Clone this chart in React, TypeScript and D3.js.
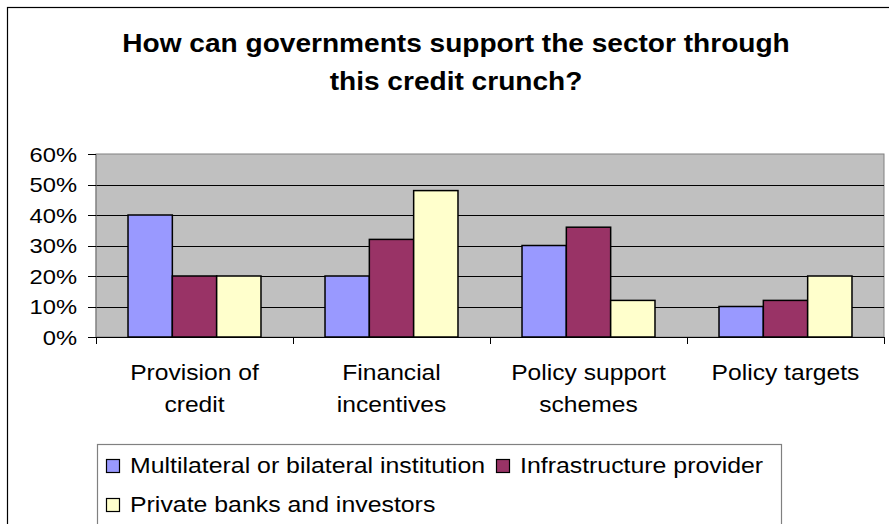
import React from "react";
import * as d3 from "d3";

const categories: string[][] = [
  ["Provision of", "credit"],
  ["Financial", "incentives"],
  ["Policy support", "schemes"],
  ["Policy targets"],
];
const seriesNames = [
  "Multilateral or bilateral institution",
  "Infrastructure provider",
  "Private banks and investors",
];
const multilateral = [0.4, 0.2, 0.3, 0.1];
const infrastructure = [0.2, 0.32, 0.36, 0.12];
const privateBanks = [0.2, 0.48, 0.12, 0.2];
const yTicks = [0, 0.1, 0.2, 0.3, 0.4, 0.5, 0.6];
const colors = ["#9999FF", "#993366", "#FFFFCC"];

const W = 889;
const H = 524;
const FONT = "'Liberation Sans', Arial, sans-serif";

export default function App() {
  const series = [multilateral, infrastructure, privateBanks];
  const plot = { left: 96, right: 884, top: 154, bottom: 337 };
  const x = d3
    .scaleBand<number>()
    .domain(categories.map((_, i) => i))
    .range([plot.left, plot.right])
    .padding(0);
  const bw = x.bandwidth();
  const xs = d3
    .scaleBand<number>()
    .domain(series.map((_, i) => i))
    .range([bw * 0.1625, bw * 0.8375])
    .padding(0);
  const y = d3.scaleLinear().domain([0, 0.6]).range([plot.bottom, plot.top]);
  const fmt = d3.format(".0%");
  const sx = 1.12;

  const legendItems = [
    { i: 0, x: 106, y: 459 },
    { i: 1, x: 496, y: 459 },
    { i: 2, x: 106, y: 498 },
  ];

  return (
    <svg
      width={W}
      height={H}
      style={{ position: "absolute", left: 0, top: 0, display: "block", background: "#fff" }}
    >
      <rect x={7.5} y={7.5} width={900} height={600} fill="#fff" stroke="#000" strokeWidth={1.2} />
      {/* title */}
      <g fontFamily={FONT} fontWeight="bold" fontSize={26} fill="#000" textAnchor="middle">
        <text transform={`translate(456,51.5) scale(1.08,1)`}>
          How can governments support the sector through
        </text>
        <text transform={`translate(456,90) scale(1.08,1)`}>this credit crunch?</text>
      </g>
      {/* plot area */}
      <rect
        x={plot.left}
        y={plot.top}
        width={plot.right - plot.left}
        height={plot.bottom - plot.top}
        fill="#C0C0C0"
        stroke="#808080"
        strokeWidth={1}
      />
      {yTicks
        .filter((t) => t > 0 && t < 0.6)
        .map((t) => (
          <line
            key={t}
            x1={plot.left}
            x2={plot.right}
            y1={Math.round(y(t)) + 0.5}
            y2={Math.round(y(t)) + 0.5}
            stroke="#000"
            strokeWidth={1}
          />
        ))}
      {/* bars */}
      {categories.map((_, ci) =>
        series.map((s, si) => {
          const bx = (x(ci) as number) + (xs(si) as number);
          return (
            <rect
              key={`${ci}-${si}`}
              x={bx}
              y={y(s[ci])}
              width={xs.bandwidth()}
              height={y(0) - y(s[ci])}
              fill={colors[si]}
              stroke="#000"
              strokeWidth={1.5}
            />
          );
        })
      )}
      {/* axes */}
      <line x1={plot.left} x2={plot.left} y1={plot.top} y2={plot.bottom} stroke="#808080" />
      <line x1={plot.left - 8} x2={plot.right} y1={plot.bottom + 0.5} y2={plot.bottom + 0.5} stroke="#000" />
      {yTicks.map((t) => (
        <line
          key={`yt${t}`}
          x1={plot.left - 8}
          x2={plot.left}
          y1={Math.round(y(t)) + 0.5}
          y2={Math.round(y(t)) + 0.5}
          stroke="#000"
        />
      ))}
      {[...categories.map((_, i) => x(i) as number), plot.right].map((v, i) => (
        <line key={`xt${i}`} x1={Math.round(v) + 0.5} x2={Math.round(v) + 0.5} y1={plot.bottom} y2={plot.bottom + 7} stroke="#000" />
      ))}
      <g fontFamily={FONT} fontSize={21} fill="#000" textAnchor="end">
        {yTicks.map((t) => (
          <text key={`yl${t}`} transform={`translate(77,${y(t) + 7.5}) scale(1.13,1)`}>
            {fmt(t)}
          </text>
        ))}
      </g>
      <g fontFamily={FONT} fontSize={22} fill="#000" textAnchor="middle">
        {categories.map((lines, ci) =>
          lines.map((ln, li) => (
            <text
              key={`c${ci}-${li}`}
              transform={`translate(${(x(ci) as number) + bw / 2},${380 + li * 32}) scale(${sx},1)`}
            >
              {ln}
            </text>
          ))
        )}
      </g>
      {/* legend */}
      <rect x={97.5} y={444.5} width={684} height={120} fill="#fff" stroke="#808080" strokeWidth={1.2} />
      <g fontFamily={FONT} fontSize={22} fill="#000">
        {legendItems.map((it) => (
          <g key={`lg${it.i}`}>
            <rect x={it.x + 0.5} y={it.y + 0.5} width={13} height={13} fill={colors[it.i]} stroke="#000" strokeWidth={1.2} />
            <text transform={`translate(${it.x + 24},${it.y + 14}) scale(1.13,1)`}>{seriesNames[it.i]}</text>
          </g>
        ))}
      </g>
    </svg>
  );
}
